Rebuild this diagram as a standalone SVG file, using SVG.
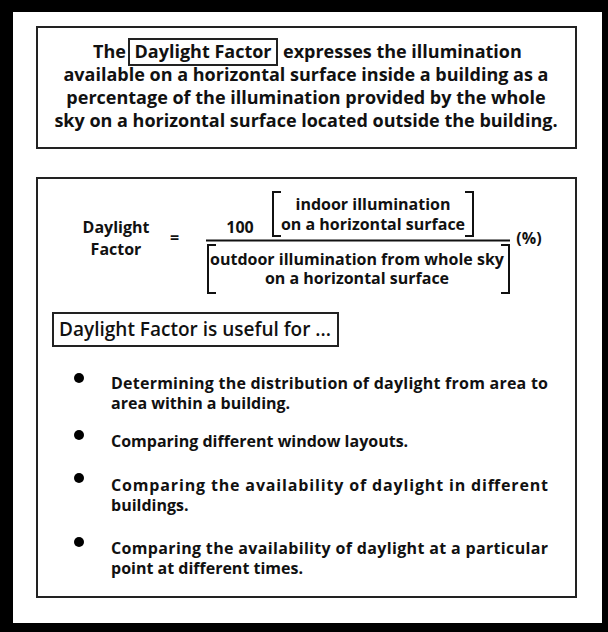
<svg xmlns="http://www.w3.org/2000/svg" width="608" height="632" viewBox="0 0 608 632">
<style>
.t{font-family:"Open Sans","Noto Sans","DejaVu Sans",sans-serif;font-weight:700;fill:#111;}
.s18{font-size:18px;}
.s16{font-size:16px;}
.hd{font-size:19px;font-weight:600;}
.box{fill:none;stroke:#222;stroke-width:2;}
.br{fill:none;stroke:#111;stroke-width:2;}
</style>
<rect x="0" y="0" width="608" height="632" fill="#000"/>
<rect x="13" y="12" width="589" height="611" fill="#fff"/>
<g id="definition">
<rect class="box" x="37" y="27" width="539" height="121"/>
<rect class="box" x="129" y="39" width="148" height="26"/>
<text class="t s18" x="126" y="58" text-anchor="end">The</text>
<text class="t s18" x="203" y="58" text-anchor="middle">Daylight Factor</text>
<text class="t s18" x="283" y="58">expresses the illumination</text>
<text class="t s18" x="306" y="81" text-anchor="middle">available on a horizontal surface inside a building as a</text>
<text class="t s18" x="306" y="104" text-anchor="middle">percentage of the illumination provided by the whole</text>
<text class="t s18" x="306" y="127" text-anchor="middle">sky on a horizontal surface located outside the building.</text>
</g>
<g id="formula-panel">
<rect class="box" x="37" y="178" width="539" height="419"/>
<g id="formula">
<text class="t s16" x="116" y="233" text-anchor="middle">Daylight</text>
<text class="t s16" x="116" y="255" text-anchor="middle">Factor</text>
<text class="t s16" x="174.5" y="243" text-anchor="middle">=</text>
<text class="t s16" x="240" y="233" text-anchor="middle">100</text>
<path class="br" d="M281,192 H273 V236 H281 M465,192 H473 V236 H465"/>
<text class="t s16" x="373" y="210" text-anchor="middle">indoor illumination</text>
<text class="t s16" x="373" y="230" text-anchor="middle">on a horizontal surface</text>
<line x1="206" y1="240.5" x2="510" y2="240.5" stroke="#111" stroke-width="2"/>
<path class="br" d="M216,245 H208 V293 H216 M501,245 H509 V293 H501"/>
<text class="t s16" x="357" y="265" text-anchor="middle">outdoor illumination from whole sky</text>
<text class="t s16" x="357" y="284" text-anchor="middle">on a horizontal surface</text>
<text class="t s16" x="529" y="244" text-anchor="middle">(%)</text>
</g>
<g id="uses">
<rect class="box" x="53" y="313" width="285" height="33"/>
<text class="t hd" x="59" y="336" textLength="272" lengthAdjust="spacingAndGlyphs">Daylight Factor is useful for ...</text>
<circle cx="79" cy="378" r="5" fill="#000"/>
<text class="t s16" x="111" y="389" textLength="437" lengthAdjust="spacing">Determining the distribution of daylight from area to</text>
<text class="t s16" x="111" y="409">area within a building.</text>
<circle cx="79" cy="435" r="5" fill="#000"/>
<text class="t s16" x="111" y="447">Comparing different window layouts.</text>
<circle cx="79" cy="478" r="5" fill="#000"/>
<text class="t s16" x="111" y="491" textLength="437" lengthAdjust="spacing">Comparing the availability of daylight in different</text>
<text class="t s16" x="111" y="511">buildings.</text>
<circle cx="79" cy="542" r="5" fill="#000"/>
<text class="t s16" x="111" y="554" textLength="437" lengthAdjust="spacing">Comparing the availability of daylight at a particular</text>
<text class="t s16" x="111" y="574">point at different times.</text>
</g>
</g>
</svg>
